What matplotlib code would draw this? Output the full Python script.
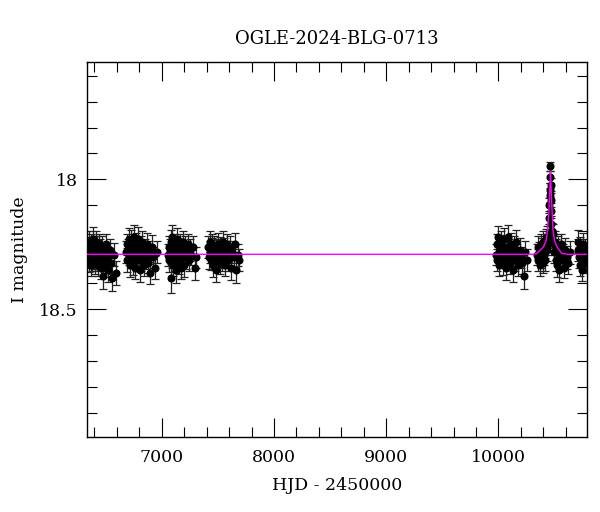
import matplotlib
matplotlib.use("Agg")
import matplotlib.pyplot as plt
from matplotlib.ticker import MultipleLocator, FuncFormatter

plt.rcParams['font.family'] = ['DejaVu Serif']

title = "OGLE-2024-BLG-0713"
xlabel = "HJD - 2450000"
ylabel = "I magnitude"

# (HJD-2450000, I mag, error) per observing season
season1 = [(6338,18.29,0.042),(6343,18.26,0.040),(6347,18.31,0.045),(6351,18.28,0.041),(6355,18.24,0.043),
           (6359,18.30,0.039),(6363,18.27,0.046),(6367,18.33,0.040),(6371,18.25,0.042),(6375,18.29,0.044),
           (6379,18.31,0.041),(6384,18.23,0.047),(6388,18.28,0.040),(6392,18.30,0.043),(6397,18.26,0.041),
           (6401,18.32,0.045),(6406,18.27,0.042),(6410,18.24,0.040),(6415,18.29,0.044),(6420,18.31,0.041),
           (6424,18.26,0.043),(6429,18.28,0.046),(6434,18.33,0.042),(6439,18.25,0.040),(6444,18.30,0.044),
           (6450,18.27,0.041),(6456,18.34,0.043),(6462,18.29,0.045),(6468,18.26,0.042),(6474,18.37,0.050),
           (6481,18.31,0.043),(6488,18.28,0.041),(6496,18.33,0.045),(6504,18.25,0.042),(6513,18.30,0.044),
           (6523,18.35,0.046),(6534,18.27,0.041),(6546,18.32,0.043),(6560,18.38,0.050),(6575,18.29,0.044),
           (6588,18.36,0.048)]
season2 = [(6682,18.28,0.042),(6688,18.25,0.040),(6693,18.31,0.045),(6699,18.27,0.041),(6704,18.23,0.043),
           (6709,18.29,0.039),(6714,18.33,0.046),(6719,18.26,0.040),(6724,18.30,0.042),(6729,18.24,0.044),
           (6734,18.28,0.041),(6739,18.32,0.047),(6744,18.27,0.040),(6749,18.22,0.043),(6754,18.30,0.041),
           (6759,18.26,0.045),(6764,18.34,0.042),(6769,18.29,0.040),(6774,18.25,0.044),(6779,18.31,0.041),
           (6784,18.27,0.043),(6789,18.23,0.046),(6795,18.30,0.040),(6801,18.28,0.042),(6807,18.35,0.045),
           (6813,18.26,0.041),(6819,18.31,0.043),(6826,18.24,0.040),(6833,18.29,0.044),(6840,18.33,0.042),
           (6848,18.27,0.041),(6856,18.30,0.045),(6865,18.25,0.043),(6875,18.32,0.040),(6886,18.28,0.044),
           (6898,18.36,0.042),(6911,18.26,0.046),(6925,18.30,0.041),(6940,18.34,0.044),(6954,18.28,0.043)]
season3 = [(7058,18.29,0.043),(7063,18.26,0.041),(7068,18.31,0.045),(7073,18.27,0.040),(7078,18.24,0.044),
           (7083,18.38,0.055),(7088,18.30,0.042),(7093,18.22,0.046),(7098,18.28,0.041),(7103,18.33,0.043),
           (7108,18.25,0.040),(7113,18.29,0.044),(7118,18.31,0.042),(7123,18.26,0.041),(7128,18.35,0.047),
           (7133,18.28,0.040),(7138,18.23,0.043),(7143,18.30,0.041),(7148,18.27,0.045),(7153,18.32,0.042),
           (7158,18.25,0.040),(7163,18.29,0.044),(7168,18.34,0.043),(7174,18.27,0.041),(7180,18.30,0.045),
           (7186,18.24,0.042),(7192,18.28,0.040),(7199,18.33,0.044),(7206,18.26,0.041),(7214,18.30,0.043),
           (7222,18.28,0.045),(7231,18.25,0.040),(7241,18.31,0.044),(7252,18.27,0.042),(7264,18.29,0.041),
           (7278,18.26,0.043),(7292,18.34,0.045),(7306,18.30,0.042)]
season4 = [(7415,18.26,0.042),(7421,18.30,0.044),(7427,18.24,0.041),(7433,18.28,0.043),(7439,18.31,0.040),
           (7445,18.27,0.045),(7451,18.25,0.042),(7457,18.33,0.044),(7463,18.29,0.041),(7469,18.26,0.043),
           (7475,18.31,0.040),(7481,18.28,0.046),(7487,18.35,0.044),(7493,18.27,0.042),(7499,18.30,0.041),
           (7505,18.25,0.043),(7511,18.29,0.045),(7517,18.32,0.042),(7523,18.26,0.040),(7529,18.28,0.044),
           (7535,18.31,0.041),(7541,18.24,0.043),(7548,18.30,0.042),(7555,18.27,0.045),(7562,18.33,0.041),
           (7570,18.28,0.043),(7578,18.25,0.040),(7587,18.31,0.044),(7596,18.29,0.042),(7606,18.26,0.041),
           (7616,18.34,0.046),(7627,18.28,0.043),(7639,18.30,0.041),(7651,18.25,0.044),(7664,18.35,0.047),
           (7677,18.29,0.042),(7688,18.31,0.044)]
season5 = [(9978,18.29,0.040),(9984,18.25,0.042),(9990,18.31,0.044),(9996,18.22,0.041),(10002,18.28,0.043),
           (10008,18.33,0.040),(10014,18.26,0.045),(10020,18.30,0.042),(10026,18.24,0.041),(10032,18.29,0.043),
           (10038,18.32,0.046),(10044,18.27,0.040),(10050,18.23,0.044),(10056,18.30,0.042),(10062,18.28,0.041),
           (10068,18.34,0.045),(10074,18.26,0.043),(10080,18.31,0.040),(10086,18.22,0.044),(10092,18.29,0.042),
           (10098,18.27,0.041),(10105,18.32,0.043),(10112,18.25,0.045),(10119,18.30,0.040),(10126,18.28,0.042),
           (10134,18.35,0.044),(10142,18.26,0.041),(10150,18.31,0.043),(10159,18.24,0.046),(10168,18.29,0.042),
           (10178,18.33,0.040),(10189,18.27,0.044),(10200,18.30,0.041),(10212,18.32,0.043),(10226,18.37,0.052),
           (10240,18.28,0.042),(10254,18.31,0.044)]
season6 = [(10345,18.29,0.040),(10351,18.26,0.042),(10357,18.31,0.044),(10363,18.28,0.041),(10369,18.33,0.043),
           (10375,18.25,0.040),(10381,18.30,0.042),(10387,18.27,0.044),(10393,18.32,0.041),(10399,18.24,0.043),
           (10405,18.29,0.040),(10411,18.26,0.042),(10417,18.31,0.044),(10423,18.23,0.041),(10429,18.27,0.043),
           (10435,18.22,0.040),(10441,18.25,0.042),(10447,18.21,0.038),
           (10452,18.15,0.030),(10455,18.10,0.028),(10458,18.06,0.027),(10460,18.04,0.026),(10462,17.99,0.022),
           (10463,17.95,0.018),(10465,18.02,0.024),(10467,18.08,0.027),(10469,18.12,0.028),(10472,18.17,0.030),
           (10476,18.20,0.032),(10480,18.23,0.035),
           (10486,18.21,0.038),(10492,18.25,0.040),(10498,18.28,0.042),(10504,18.24,0.041),(10510,18.31,0.043),
           (10516,18.27,0.040),(10522,18.33,0.044),(10529,18.26,0.042),(10536,18.30,0.041),(10543,18.35,0.045),
           (10550,18.28,0.043),(10558,18.25,0.040),(10566,18.31,0.044),(10575,18.29,0.042),(10585,18.34,0.041),
           (10596,18.27,0.043),(10608,18.30,0.045),(10621,18.32,0.042),(10635,18.28,0.044)]
season7 = [(10706,18.27,0.042),(10712,18.24,0.044),(10718,18.30,0.041),(10724,18.33,0.043),(10730,18.26,0.040),
           (10736,18.29,0.045),(10742,18.35,0.042),(10748,18.28,0.041),(10755,18.25,0.043),(10762,18.31,0.044),
           (10770,18.27,0.042),(10778,18.32,0.041),(10786,18.29,0.043),(10794,18.30,0.042)]

# microlensing model curve
model_t = [6300, 10300, 10343, 10402, 10425, 10438, 10450, 10458, 10464, 10470, 10478, 10486, 10500, 10521, 10566, 10620, 10800]
model_m = [18.288, 18.288, 18.285, 18.259, 18.235, 18.195, 18.12, 18.04, 17.97, 18.04, 18.12, 18.195, 18.235, 18.259, 18.285, 18.288, 18.288]

seasons = [season1, season2, season3, season4, season5, season6, season7]

fig = plt.figure(figsize=(6.0, 5.12), dpi=100)
ax = fig.add_axes([87.3/600, 1-436.7/512, (587.3-87.3)/600, (436.7-62.3)/512])

for s in seasons:
    t = [r[0] for r in s]
    m = [r[1] for r in s]
    e = [r[2] for r in s]
    ax.errorbar(t, m, yerr=e, fmt='o', color='black', ecolor='#222222',
                markersize=4.8, elinewidth=0.9, capsize=3.0, capthick=0.9, zorder=2)

ax.plot(model_t, model_m, color='#ff00ff', linewidth=1.0, zorder=3)

ax.set_xlim(6336, 10792)
ax.set_ylim(18.99, 17.549)

ax.xaxis.set_major_locator(MultipleLocator(1000))
ax.xaxis.set_minor_locator(MultipleLocator(200))
ax.yaxis.set_major_locator(MultipleLocator(0.5))
ax.yaxis.set_minor_locator(MultipleLocator(0.1))
ax.yaxis.set_major_formatter(FuncFormatter(lambda v, p: '%g' % v))

ax.tick_params(which='both', direction='in', top=True, right=True, width=0.8, color='black')
ax.tick_params(which='major', length=13.7, labelsize=12.5)
ax.tick_params(which='minor', length=7)
ax.tick_params(axis='x', which='major', pad=9)
ax.tick_params(axis='y', which='major', pad=7)
for sp in ax.spines.values():
    sp.set_linewidth(1.0)

ax.set_title(title, fontsize=13, pad=13)
ax.set_xlabel(xlabel, fontsize=12.5, labelpad=8)
ax.set_ylabel(ylabel, fontsize=12.5, labelpad=8)

fig.savefig("out.png", dpi=100)
